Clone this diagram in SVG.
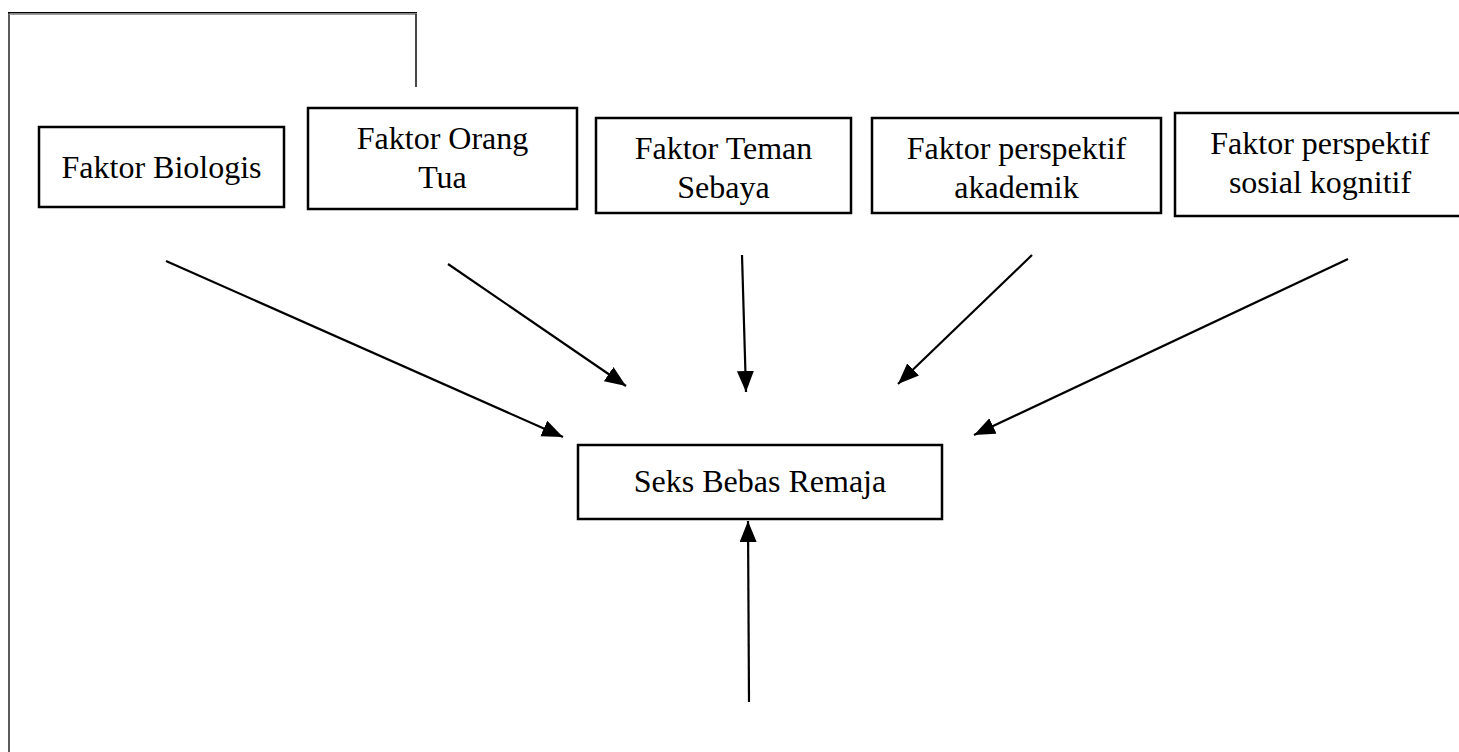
<svg xmlns="http://www.w3.org/2000/svg" width="1459" height="752" viewBox="0 0 1459 752">
  <style>
    .box { fill: #ffffff; stroke: #000000; stroke-width: 2.5; }
    .lbl { font-family: "Liberation Serif", "Times New Roman", serif; font-size: 32px; fill: #000000; text-anchor: middle; }
    .conn { stroke: #000000; stroke-width: 2.2; fill: none; marker-end: url(#arrow); }
    .frame { stroke: #333333; fill: none; }
  </style>
  <defs>
    <marker id="arrow" markerUnits="userSpaceOnUse" markerWidth="22" markerHeight="18" refX="21" refY="8.5" orient="auto">
      <path d="M0,0 L21,8.5 L0,17 z" fill="#000000"/>
    </marker>
  </defs>
  <rect width="1459" height="752" fill="#ffffff"/>

  <g id="frame">
    <line class="frame" x1="9" y1="12" x2="9" y2="752" stroke-width="1.6"/>
    <line x1="8" y1="12.8" x2="417" y2="12.8" stroke="#000000" stroke-width="1.4"/>
    <line x1="9" y1="14.4" x2="417" y2="14.4" stroke="#9a9a9a" stroke-width="1.2"/>
    <line class="frame" x1="416" y1="14" x2="416" y2="87" stroke-width="1.8"/>
  </g>

  <g id="node-biologis">
    <rect class="box" x="39" y="127" width="245" height="80"/>
    <text class="lbl" x="161.5" y="178">Faktor Biologis</text>
  </g>
  <g id="node-orangtua">
    <rect class="box" x="308" y="108" width="269" height="101"/>
    <text class="lbl" x="442.5" y="149">Faktor Orang</text>
    <text class="lbl" x="442.5" y="188">Tua</text>
  </g>
  <g id="node-teman">
    <rect class="box" x="596" y="118" width="255" height="95"/>
    <text class="lbl" x="723.5" y="159">Faktor Teman</text>
    <text class="lbl" x="723.5" y="198">Sebaya</text>
  </g>
  <g id="node-akademik">
    <rect class="box" x="872" y="118" width="289" height="95"/>
    <text class="lbl" x="1016.5" y="159">Faktor perspektif</text>
    <text class="lbl" x="1016.5" y="198">akademik</text>
  </g>
  <g id="node-sosial">
    <rect class="box" x="1175" y="113" width="290" height="103"/>
    <text class="lbl" x="1320" y="154">Faktor perspektif</text>
    <text class="lbl" x="1320" y="193">sosial kognitif</text>
  </g>
  <g id="node-seks">
    <rect class="box" x="578" y="445" width="364" height="74"/>
    <text class="lbl" x="760" y="492">Seks Bebas Remaja</text>
  </g>

  <g id="connectors">
    <line class="conn" x1="166" y1="261" x2="563" y2="437"/>
    <line class="conn" x1="448" y1="264" x2="626" y2="386"/>
    <line class="conn" x1="742" y1="255" x2="746" y2="392"/>
    <line class="conn" x1="1032" y1="255" x2="898" y2="384"/>
    <line class="conn" x1="1348" y1="259" x2="974" y2="435"/>
    <line class="conn" x1="749" y1="702" x2="748" y2="521"/>
  </g>
</svg>
